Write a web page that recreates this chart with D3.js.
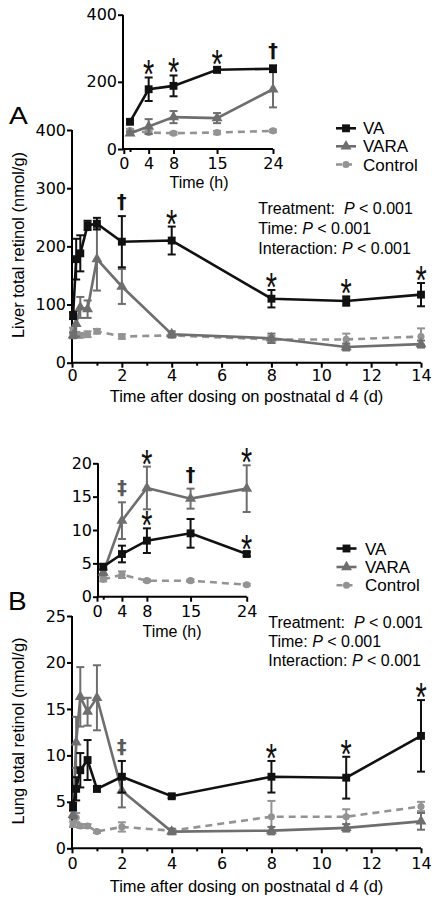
<!DOCTYPE html>
<html><head><meta charset="utf-8">
<script src="https://cdn.jsdelivr.net/npm/d3@7"></script>
<style>body{margin:0;background:#fff}svg{display:block}</style>
</head><body><svg id="c" width="439" height="906"></svg>
<script>
// ---------- DATA ----------
const seriesNames = ["VA", "VARA", "Control"];
const daysMain = [0.042, 0.167, 0.333, 0.625, 1, 2, 4, 8, 11, 14];   // 1h,4h,8h,15h,24h, then days
const hoursInset = [1, 4, 8, 15, 24];

const liverVA      = [81, 178, 188, 236, 239, 208, 210, 110, 106, 117];
const liverVAErr   = [6, 35, 31, 8, 10, 44, 24, 15, 8, 20];
const liverVARA    = [47, 67, 95, 92, 178, 131, 49, 42, 27, 32];
const liverVARAErr = [5, 22, 18, 15, 54, 30, 5, 8, 6, 6];
const liverCtl     = [55, 49, 47, 49, 54, 45, 47, 40, 40, 45];
const liverCtlErr  = [5, 4, 4, 5, 4, 4, 4, 6, 10, 14];

const lungVA      = [4.5, 6.4, 8.4, 9.5, 6.4, 7.7, 5.6, 7.7, 7.6, 12.1];
const lungVAErr   = [0.4, 1.25, 1.85, 2.15, 0.3, 1.7, 0.2, 1.7, 2.25, 3.85];
const lungVARA    = [3.6, 11.4, 16.3, 14.7, 16.2, 6.2, 1.8, 1.9, 2.2, 2.9];
const lungVARAErr = [0.4, 2.75, 3.2, 1.5, 3.5, 1.8, 0.3, 0.4, 0.4, 0.9];
const lungCtl     = [2.6, 3.3, 2.4, 2.4, 1.8, 2.3, 1.9, 3.4, 3.4, 4.5];
const lungCtlErr  = [0.3, 0.5, 0.2, 0.2, 0.15, 0.5, 0.2, 1.7, 0.8, 0.5];

const dayTicks = [0, 2, 4, 6, 8, 10, 12, 14];
const dayMinorTicks = [1, 3, 5, 7, 9, 11, 13];
const hourTicks = [0, 4, 8, 15, 24];
const hourMinorTicks = [1];
const liverTicks = [0, 100, 200, 300, 400];
const liverInsetTicks = [0, 200, 400];
const lungTicks = [0, 5, 10, 15, 20, 25];
const lungInsetTicks = [0, 5, 10, 15, 20];

const liverMainMarks  = [{x:2,s:"†",on:"VA"},{x:4,s:"*",on:"VA"},{x:8,s:"*",on:"VA"},{x:11,s:"*",on:"VA"},{x:14,s:"*",on:"VA"}];
const liverInsetMarks = [{x:4,s:"*",on:"VA"},{x:8,s:"*",on:"VA"},{x:15,s:"*",on:"VA"},{x:24,s:"†",on:"VA"}];
const lungMainMarks   = [{x:2,s:"‡",on:"VA"},{x:8,s:"*",on:"VA"},{x:11,s:"*",on:"VA"},{x:14,s:"*",on:"VA"}];
const lungInsetMarks  = [{x:4,s:"‡",on:"VARA"},{x:8,s:"*",on:"VARA"},{x:8,s:"*",on:"VA"},{x:15,s:"†",on:"VARA"},{x:24,s:"*",on:"VARA"},{x:24,s:"*",on:"VA"}];

const statLines = [["Treatment:  ","P"," < 0.001"],["Time: ","P"," < 0.001"],["Interaction: ","P"," < 0.001"]];

// ---------- STYLE ----------
const SANS = "'Liberation Sans', Arial, sans-serif";
const TICKF = "'DejaVu Sans', sans-serif";
const styles = {
  VA:      {color:"#111111", sym:d3.symbolSquare,   size:62, dash:null},
  VARA:    {color:"#6e6e6e", sym:d3.symbolTriangle, size:52, dash:null},
  Control: {color:"#939393", sym:d3.symbolCircle,   size:40, dash:"7,5"}
};

const svg = d3.select("#c");
svg.append("rect").attr("width",439).attr("height",906).attr("fill","#fff");

function styleAxis(g, fs){
  g.select(".domain").attr("stroke","#000").attr("stroke-width",2);
  g.selectAll(".tick line").attr("stroke","#000").attr("stroke-width",2);
  g.selectAll(".tick text").attr("font-family",TICKF).attr("font-size",fs).attr("fill","#000");
}

function drawSeries(g, xs, vals, errs, x, y, st){
  const eg = g.append("g").attr("stroke",st.color).attr("stroke-width",2).attr("fill","none");
  xs.forEach((xv,i)=>{
    const cx = x(xv), y1 = y(Math.max(0, vals[i]-errs[i])), y2 = y(vals[i]+errs[i]);
    eg.append("line").attr("x1",cx).attr("x2",cx).attr("y1",y1).attr("y2",y2);
    eg.append("line").attr("x1",cx-4).attr("x2",cx+4).attr("y1",y1).attr("y2",y1);
    eg.append("line").attr("x1",cx-4).attr("x2",cx+4).attr("y1",y2).attr("y2",y2);
  });
  g.append("path").datum(xs.map((xv,i)=>[xv,vals[i]]))
    .attr("d", d3.line().x(d=>x(d[0])).y(d=>y(d[1])))
    .attr("fill","none").attr("stroke",st.color).attr("stroke-width",2.6)
    .attr("stroke-dasharray",st.dash);
  g.selectAll(null).data(xs.map((xv,i)=>[xv,vals[i]])).enter().append("path")
    .attr("d", d3.symbol().type(st.sym).size(st.size))
    .attr("transform", d=>`translate(${x(d[0])},${y(d[1])})`)
    .attr("fill",st.color);
}

function drawMarks(g, marks, xs, data, x, y){
  marks.forEach(m=>{
    const i = xs.indexOf(m.x);
    const d = data[m.on];
    const top = y(d.v[i] + d.e[i]);
    const cx = x(m.x);
    if (m.s === "*"){
      g.append("text").attr("transform",`translate(${cx},${top-12+23}) scale(0.72,1)`)
        .attr("text-anchor","middle").attr("font-family",SANS).attr("font-size",40)
        .attr("fill","#111").text("*");
    } else {
      g.append("text").attr("x",cx).attr("y",top-8)
        .attr("text-anchor","middle").attr("font-family",TICKF).attr("font-weight","bold")
        .attr("font-size", m.s==="‡"?19:19)
        .attr("fill", m.s==="‡" ? "#5a5a5a" : "#111").text(m.s);
    }
  });
}

function panel(opt){
  const g = svg.append("g");
  const x = d3.scaleLinear().domain(opt.xDomain).range(opt.xRange);
  const y = d3.scaleLinear().domain(opt.yDomain).range(opt.yRange);
  const y0 = opt.yRange[0];
  const xa = g.append("g").attr("transform",`translate(0,${y0})`)
    .call(d3.axisBottom(x).tickValues(opt.xTicks).tickSize(5).tickSizeOuter(0).tickPadding(opt.xPad));
  styleAxis(xa, opt.tickFs);
  xa.select(".domain").attr("d",`M${opt.axisX},0H${opt.xRange[1]}`);
  const xm = g.append("g").attr("transform",`translate(0,${y0})`)
    .call(d3.axisBottom(x).tickValues(opt.xMinor).tickSize(3).tickFormat(""));
  xm.select(".domain").remove();
  xm.selectAll(".tick line").attr("stroke","#000").attr("stroke-width",2);
  const ya = g.append("g").attr("transform",`translate(${opt.axisX},0)`)
    .call(d3.axisLeft(y).tickValues(opt.yTicks).tickSize(5).tickSizeOuter(0).tickPadding(1));
  styleAxis(ya, opt.tickFs);
  ya.select(".domain").attr("d",`M0,${opt.yRange[0]+1}V${opt.yRange[1]}`);
  const data = {
    VA:{v:opt.va, e:opt.vaE}, VARA:{v:opt.vara, e:opt.varaE}, Control:{v:opt.ctl, e:opt.ctlE}
  };
  ["Control","VARA","VA"].forEach(n=>drawSeries(g, opt.xs, data[n].v, data[n].e, x, y, styles[n]));
  drawMarks(g, opt.marks, opt.xs, data, x, y);
  if (opt.xTitle) g.append("text").attr("x",opt.xTitle[1]).attr("y",opt.xTitle[2])
    .attr("text-anchor","middle").attr("font-family",SANS).attr("font-size",opt.titleFs).text(opt.xTitle[0]);
  if (opt.yTitle) g.append("text").attr("transform",`translate(${opt.yTitle[1]},${opt.yTitle[2]}) rotate(-90)`)
    .attr("text-anchor","middle").attr("dy","0.35em").attr("font-family",SANS).attr("font-size",opt.titleFs).text(opt.yTitle[0]);
}

function legend(x0, xt, ys){
  seriesNames.forEach((n,i)=>{
    const st = styles[n], yy = ys[i];
    svg.append("line").attr("x1",x0-10).attr("x2",x0+10).attr("y1",yy).attr("y2",yy)
      .attr("stroke",st.color).attr("stroke-width",2.6).attr("stroke-dasharray", n==="Control"?"6,4":null);
    svg.append("path").attr("d",d3.symbol().type(st.sym).size(st.size)).attr("transform",`translate(${x0},${yy})`).attr("fill",st.color);
    svg.append("text").attr("x",xt).attr("y",yy+6).attr("font-family",SANS).attr("font-size",17).text(n);
  });
}

function stats(x0, ys){
  statLines.forEach((parts,i)=>{
    const t = svg.append("text").attr("x",x0).attr("y",ys[i]).attr("font-family",SANS).attr("font-size",16).attr("xml:space","preserve");
    t.append("tspan").text(parts[0]);
    t.append("tspan").attr("font-style","italic").text(parts[1]);
    t.append("tspan").text(parts[2]);
  });
}

// ---------- PANEL A ----------
panel({xs:daysMain, xDomain:[0,14], xRange:[72,421], yDomain:[0,400], yRange:[362.7,130], axisX:72,
  xTicks:dayTicks, xMinor:dayMinorTicks, yTicks:liverTicks, tickFs:16, titleFs:16.5, xPad:2,
  va:liverVA, vaE:liverVAErr, vara:liverVARA, varaE:liverVARAErr, ctl:liverCtl, ctlE:liverCtlErr,
  marks:liverMainMarks,
  xTitle:["Time after dosing on postnatal d 4 (d)",246.5,402], yTitle:["Liver total retinol (nmol/g)",18.5,245]});
panel({xs:hoursInset, xDomain:[0,24], xRange:[123.8,273], yDomain:[0,400], yRange:[149,14.7], axisX:123,
  xTicks:hourTicks, xMinor:hourMinorTicks, yTicks:liverInsetTicks, tickFs:16, titleFs:16, xPad:4,
  va:liverVA.slice(0,5), vaE:liverVAErr.slice(0,5), vara:liverVARA.slice(0,5), varaE:liverVARAErr.slice(0,5),
  ctl:liverCtl.slice(0,5), ctlE:liverCtlErr.slice(0,5), marks:liverInsetMarks,
  xTitle:["Time (h)",199,188]});
legend(346, 363, [128.3, 146.3, 164.5]);
stats(258.3, [214.3, 234.3, 254.3]);
svg.append("text").attr("transform","translate(9,123.5) scale(1.2,1)").attr("font-family",SANS).attr("font-size",23.5).text("A");

// ---------- PANEL B ----------
panel({xs:daysMain, xDomain:[0,14], xRange:[72,421], yDomain:[0,25], yRange:[848.3,616], axisX:72,
  xTicks:dayTicks, xMinor:dayMinorTicks, yTicks:lungTicks, tickFs:16, titleFs:16.5, xPad:4,
  va:lungVA, vaE:lungVAErr, vara:lungVARA, varaE:lungVARAErr, ctl:lungCtl, ctlE:lungCtlErr,
  marks:lungMainMarks,
  xTitle:["Time after dosing on postnatal d 4 (d)",246.5,892], yTitle:["Lung total retinol (nmol/g)",18.5,731]});
panel({xs:hoursInset, xDomain:[0,24], xRange:[97,246.7], yDomain:[0,20], yRange:[596.7,463.3], axisX:98,
  xTicks:hourTicks, xMinor:hourMinorTicks, yTicks:lungInsetTicks, tickFs:16, titleFs:16, xPad:4,
  va:lungVA.slice(0,5), vaE:lungVAErr.slice(0,5), vara:lungVARA.slice(0,5), varaE:lungVARAErr.slice(0,5),
  ctl:lungCtl.slice(0,5), ctlE:lungCtlErr.slice(0,5), marks:lungInsetMarks,
  xTitle:["Time (h)",172,637]});
legend(346.5, 365, [548.5, 567, 585.3]);
stats(268.3, [627.7, 647, 666.3]);
svg.append("text").attr("transform","translate(8,610) scale(1.12,1)").attr("font-family",SANS).attr("font-size",25).text("B");
</script>
</body></html>
